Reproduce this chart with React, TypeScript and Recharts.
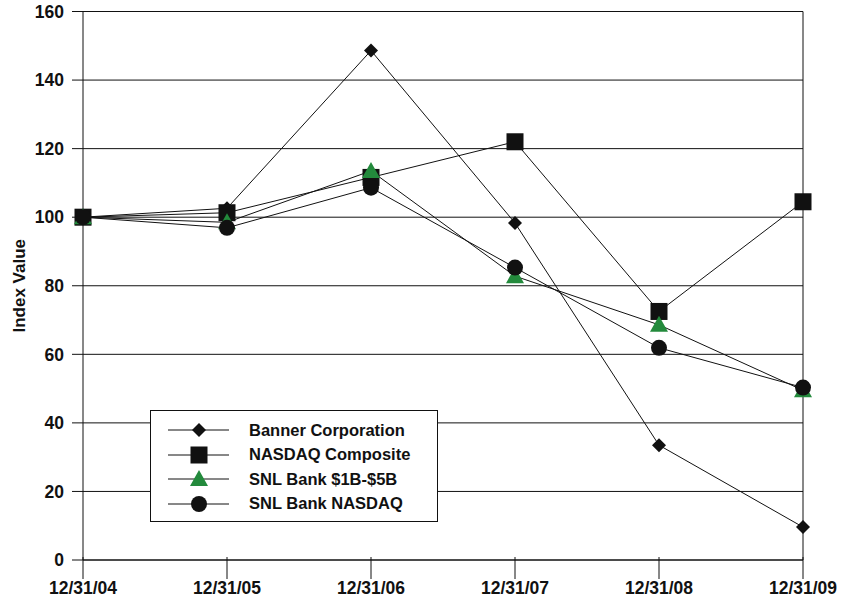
import React from 'react';
import {
  LineChart,
  Line,
  XAxis,
  YAxis,
  CartesianGrid,
  Legend,
  ReferenceLine,
} from 'recharts';

const dates = ['12/31/04', '12/31/05', '12/31/06', '12/31/07', '12/31/08', '12/31/09'];
const banner = [100, 102.6, 148.6, 98.3, 33.5, 9.6];
const nasdaq = [100, 101.3, 111.6, 122.0, 72.5, 104.5];
const snl1b5b = [100, 98.5, 113.5, 82.8, 68.6, 49.5];
const snlNasdaq = [100, 96.9, 108.6, 85.3, 61.9, 50.3];
const yTicks = [0, 20, 40, 60, 80, 100, 120, 140, 160];

const GREEN = '#238a3c';
const FONT = 'Arial, "Liberation Sans", sans-serif';

const chartData = dates.map((date, i) => ({
  date,
  banner: banner[i],
  nasdaq: nasdaq[i],
  snl1b5b: snl1b5b[i],
  snlNasdaq: snlNasdaq[i],
}));

type MarkerKind = 'diamond' | 'square' | 'triangle' | 'circle';

const Marker = ({ kind, cx, cy }: { kind: MarkerKind; cx: number; cy: number }) => {
  if (kind === 'diamond') {
    const s = 7;
    return <polygon points={`${cx},${cy - s} ${cx + s},${cy} ${cx},${cy + s} ${cx - s},${cy}`} fill="#111" />;
  }
  if (kind === 'square') {
    return <rect x={cx - 8.5} y={cy - 8.5} width={17} height={17} fill="#111" />;
  }
  if (kind === 'triangle') {
    return <polygon points={`${cx},${cy - 9} ${cx + 9},${cy + 7} ${cx - 9},${cy + 7}`} fill={GREEN} />;
  }
  return <circle cx={cx} cy={cy} r={8} fill="#111" />;
};

const dotFor = (kind: MarkerKind) => (props: any) => (
  <Marker key={`${kind}-${props.index}`} kind={kind} cx={props.cx} cy={props.cy} />
);

const series: { key: string; name: string; kind: MarkerKind }[] = [
  { key: 'banner', name: 'Banner Corporation', kind: 'diamond' },
  { key: 'nasdaq', name: 'NASDAQ Composite', kind: 'square' },
  { key: 'snl1b5b', name: 'SNL Bank $1B-$5B', kind: 'triangle' },
  { key: 'snlNasdaq', name: 'SNL Bank NASDAQ', kind: 'circle' },
];

const XTick = ({ x, y, payload }: any) => (
  <g>
    <line x1={x} x2={x} y1={y - 11} y2={y + 11} stroke="#111" />
    <text x={x} y={y + 26} textAnchor="middle" fontFamily={FONT} fontWeight="bold" fontSize={17.5} fill="#111">
      {payload.value}
    </text>
  </g>
);

const LegendBox = () => (
  <div
    style={{
      width: 288,
      height: 112,
      border: '1px solid #111',
      background: '#fff',
      fontFamily: FONT,
      fontWeight: 'bold',
      fontSize: 16.5,
      color: '#111',
      boxSizing: 'border-box',
      paddingTop: 7,
    }}
  >
    {series.map((s) => (
      <div key={s.key} style={{ display: 'flex', alignItems: 'center', height: 24.5 }}>
        <svg width={62} height={24} style={{ marginLeft: 17, flexShrink: 0 }}>
          <line x1={0} x2={61} y1={12} y2={12} stroke="#111" />
          <Marker kind={s.kind} cx={31} cy={12} />
        </svg>
        <span style={{ marginLeft: 19, whiteSpace: 'nowrap' }}>{s.name}</span>
      </div>
    ))}
  </div>
);

export default function App() {
  return (
    <div style={{ position: 'absolute', left: 0, top: 0, background: '#fff' }}>
      <LineChart
        width={842}
        height={600}
        data={chartData}
        margin={{ top: 11.5, right: 39, bottom: 10, left: 0 }}
      >
        <CartesianGrid vertical={false} stroke="#111" strokeOpacity={1} />
        <XAxis
          dataKey="date"
          height={30}
          axisLine={{ stroke: '#111' }}
          tickLine={false}
          tick={<XTick />}
          interval={0}
        />
        <YAxis
          width={83}
          domain={[0, 160]}
          ticks={yTicks}
          interval={0}
          axisLine={{ stroke: '#111' }}
          tickLine={{ stroke: '#111' }}
          tickSize={11}
          tickMargin={8}
          tick={{ fontFamily: FONT, fontWeight: 'bold', fontSize: 17.5, fill: '#111' }}
          label={{
            value: 'Index Value',
            angle: -90,
            position: 'insideLeft',
            dx: 14,
            style: { fontFamily: FONT, fontWeight: 'bold', fontSize: 17, fill: '#111', textAnchor: 'middle' },
          }}
        />
        <ReferenceLine x="12/31/09" stroke="#111" />
        <Legend
          layout="horizontal"
          verticalAlign="middle"
          align="center"
          content={<LegendBox />}
          wrapperStyle={{ left: 150, top: 410, width: 288, height: 112 }}
        />
        {series.map((s) => (
          <Line
            key={s.key}
            dataKey={s.key}
            name={s.name}
            type="linear"
            stroke="#111"
            strokeWidth={1}
            dot={dotFor(s.kind)}
            activeDot={false}
            isAnimationActive={false}
          />
        ))}
      </LineChart>
    </div>
  );
}
